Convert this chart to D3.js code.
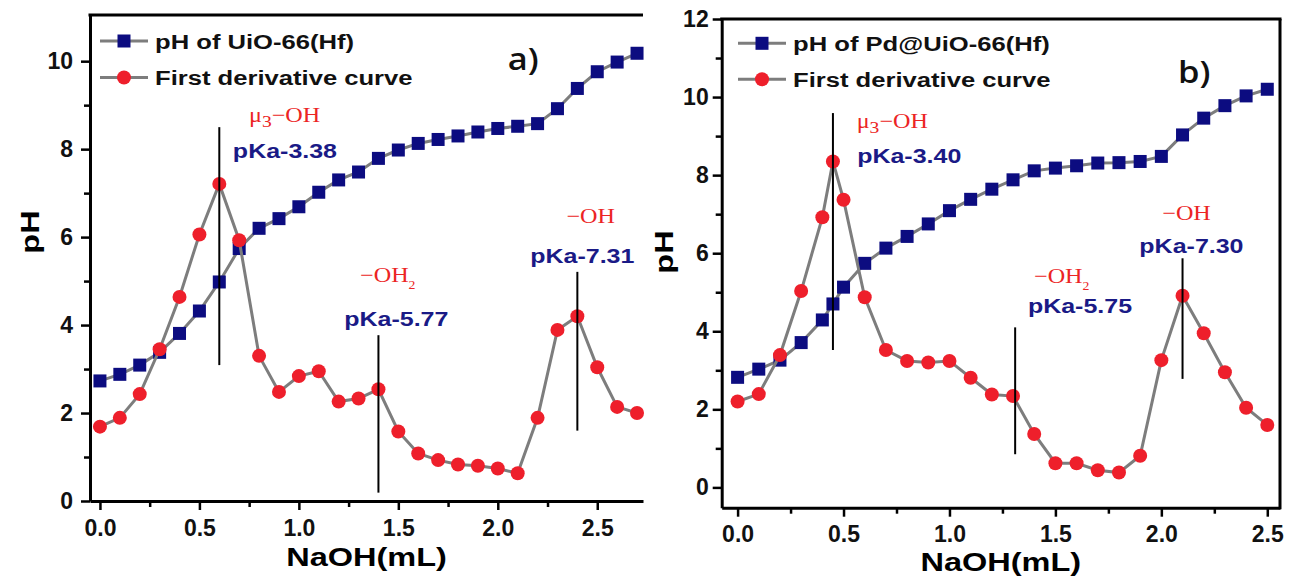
<!DOCTYPE html>
<html><head><meta charset="utf-8">
<script src="https://cdn.jsdelivr.net/npm/d3@7"></script>
<style>body{margin:0;background:#fff}svg{display:block}</style>
</head><body>
<svg id="c" width="1289" height="579"></svg>
<script>
// ---------- data ----------
const naohA = [0,0.1,0.2,0.3,0.4,0.5,0.6,0.7,0.8,0.9,1.0,1.1,1.2,1.3,1.4,1.5,1.6,1.7,1.8,1.9,2.0,2.1,2.2,2.3,2.4,2.5,2.6,2.7];
const phA = [2.73,2.88,3.09,3.38,3.81,4.32,4.98,5.74,6.2,6.42,6.69,7.02,7.3,7.48,7.79,7.98,8.13,8.22,8.3,8.39,8.47,8.52,8.58,8.92,9.38,9.76,9.98,10.18];
const derivA = [1.69,1.89,2.43,3.45,4.64,6.06,7.21,5.93,3.3,2.48,2.84,2.95,2.26,2.33,2.54,1.58,1.08,0.93,0.83,0.8,0.74,0.63,1.89,3.89,4.2,3.04,2.14,2.0];

const naohB = [0,0.1,0.2,0.3,0.4,0.45,0.5,0.6,0.7,0.8,0.9,1.0,1.1,1.2,1.3,1.4,1.5,1.6,1.7,1.8,1.9,2.0,2.1,2.2,2.3,2.4,2.5];
const phB = [2.82,3.03,3.26,3.71,4.29,4.7,5.13,5.74,6.13,6.43,6.75,7.09,7.38,7.64,7.88,8.11,8.18,8.24,8.31,8.32,8.35,8.48,9.03,9.46,9.78,10.03,10.2];
const derivB = [2.2,2.39,3.39,5.03,6.92,8.35,7.37,4.87,3.52,3.24,3.2,3.24,2.81,2.38,2.34,1.37,0.62,0.62,0.44,0.38,0.81,3.26,4.91,3.95,2.95,2.04,1.6];

const legendA = ["pH of UiO-66(Hf)", "First derivative curve"];
const legendB = ["pH of Pd@UiO-66(Hf)", "First derivative curve"];

const xTicks = [0,0.5,1.0,1.5,2.0,2.5];
const xMinorTicks = [0.25,0.75,1.25,1.75,2.25];
const yTicksA = [0,2,4,6,8,10];
const yMinorA = [1,3,5,7,9];
const yTicksB = [0,2,4,6,8,10,12];
const yMinorB = [1,3,5,7,9,11];

const pkaLinesA = [{x:0.6,y0:3.09,y1:8.5},{x:1.4,y0:0.19,y1:3.77},{x:2.4,y0:1.6,y1:5.21}];
const pkaLinesB = [{x:0.45,y0:3.52,y1:9.59},{x:1.31,y0:0.85,y1:4.1},{x:2.1,y0:2.78,y1:5.87}];

const siteA = [{pre:"μ",sub:"3",post:"−OH",x:0.928,y:8.62},{pre:"−OH",sub:"2",post:"",x:1.447,y:4.98},{pre:"−OH",sub:"",post:"",x:2.467,y:6.32}];
const pkaA = [{text:"pKa-3.38",x:0.93,y:7.79},{text:"pKa-5.77",x:1.49,y:3.98},{text:"pKa-7.31",x:2.425,y:5.41}];
const siteB = [{pre:"μ",sub:"3",post:"−OH",x:0.73,y:9.21},{pre:"−OH",sub:"2",post:"",x:1.53,y:5.24},{pre:"−OH",sub:"",post:"",x:2.119,y:6.86}];
const pkaB = [{text:"pKa-3.40",x:0.81,y:8.32},{text:"pKa-5.75",x:1.616,y:4.47},{text:"pKa-7.30",x:2.142,y:6.01}];

const panelLabels = [{text:"a)",x:2.05,y:9.8},{text:"b)",x:2.079,y:10.37}];

// ---------- styles ----------
const BLUE = "#0c0c80", RED = "#ee1f2b", GRAY = "#7d7d7d", NAVY = "#1a1a86", TRED = "#ec2424";
const SANS = "'Liberation Sans', Arial, sans-serif";
const SERIF = "'Liberation Serif', 'Times New Roman', serif";
const SX = 1.25;

const svg = d3.select("#c");

function stext(g, x, y, str, o) {
  const gg = g.append("g").attr("transform", `translate(${x},${y}) scale(${o.sx||SX},1)`);
  const t = gg.append("text").attr("text-anchor", o.anchor||"start")
    .attr("font-family", o.family||SANS).attr("font-size", o.size)
    .attr("font-weight", o.weight||"bold").attr("fill", o.fill||"#000");
  if (str !== null) t.text(str);
  return t;
}

function panel(cfg) {
  const g = svg.append("g");
  const x = d3.scaleLinear().domain(cfg.xd).range([cfg.left, cfg.right]);
  const y = d3.scaleLinear().domain(cfg.yd).range([cfg.bottom, cfg.top]);

  // axes
  g.append("g").attr("transform", `translate(0,${cfg.bottom})`)
    .call(d3.axisBottom(x).tickValues(xTicks).tickSize(9).tickSizeOuter(0).tickPadding(cfg.xpad).tickFormat(d3.format(".1f")));
  g.append("g").attr("transform", `translate(0,${cfg.bottom})`)
    .call(d3.axisBottom(x).tickValues(xMinorTicks).tickSize(6).tickSizeOuter(0).tickFormat(""))
    .select(".domain").remove();
  g.append("g").attr("transform", `translate(${cfg.left},0)`)
    .call(d3.axisLeft(y).tickValues(cfg.yTicks).tickSize(9).tickSizeOuter(0).tickPadding(cfg.ypad).tickFormat(d3.format("d")));
  g.append("g").attr("transform", `translate(${cfg.left},0)`)
    .call(d3.axisLeft(y).tickValues(cfg.yMinor).tickSize(6).tickSizeOuter(0).tickFormat(""))
    .select(".domain").remove();
  g.selectAll(".domain").attr("stroke", "#000").attr("stroke-width", 3);
  g.selectAll(".tick line").attr("stroke", "#000").attr("stroke-width", 2.5);
  g.selectAll(".tick text").attr("font-family", SANS).attr("font-size", 23).attr("font-weight", "bold").attr("fill", "#111");
  // frame
  g.append("line").attr("x1", cfg.left - 1.5).attr("x2", cfg.right + (cfg.rightBorder ? 1.5 : 0))
    .attr("y1", cfg.top).attr("y2", cfg.top).attr("stroke", "#000").attr("stroke-width", 3);
  if (cfg.rightBorder) {
    g.append("line").attr("x1", cfg.right).attr("x2", cfg.right).attr("y1", cfg.top).attr("y2", cfg.bottom + 1.5)
      .attr("stroke", "#000").attr("stroke-width", 3);
  }

  // axis titles
  stext(g, (cfg.left + cfg.right) / 2, cfg.xTitleY, "NaOH(mL)", {size: 26, anchor: "middle"});
  const pg = g.append("g").attr("transform", `translate(${cfg.yTitleX},${cfg.yTitleY}) rotate(-90) scale(${SX},1)`);
  pg.append("text").attr("text-anchor", "middle").attr("dy", "0.35em").attr("font-family", SANS)
    .attr("font-size", 26).attr("font-weight", "bold").text("pH");

  const line = d3.line().x((d, i) => x(cfg.xs[i])).y(d => y(d));
  // pH series
  g.append("path").attr("d", line(cfg.ph)).attr("fill", "none").attr("stroke", GRAY).attr("stroke-width", 3);
  g.selectAll(".sq").data(cfg.ph).enter().append("rect")
    .attr("x", (d, i) => x(cfg.xs[i]) - 6.5).attr("y", d => y(d) - 6.5)
    .attr("width", 13).attr("height", 13).attr("fill", BLUE);
  // derivative
  g.append("path").attr("d", line(cfg.der)).attr("fill", "none").attr("stroke", GRAY).attr("stroke-width", 3);
  g.selectAll(".ci").data(cfg.der).enter().append("circle")
    .attr("cx", (d, i) => x(cfg.xs[i])).attr("cy", d => y(d)).attr("r", 7).attr("fill", RED);

  // vertical pKa lines
  g.selectAll(".vl").data(cfg.vlines).enter().append("line")
    .attr("x1", d => x(d.x)).attr("x2", d => x(d.x)).attr("y1", d => y(d.y0)).attr("y2", d => y(d.y1))
    .attr("stroke", "#000").attr("stroke-width", 2);

  // site labels
  cfg.sites.forEach(s => {
    const t = stext(g, x(s.x), y(s.y), null, {size: 21, weight: "normal", family: SERIF, fill: TRED, anchor: "middle", sx: 1.15});
    t.append("tspan").text(s.pre);
    if (s.sub) {
      if (s.post) {
        t.append("tspan").attr("font-size", 17).attr("dy", 5).text(s.sub);
        t.append("tspan").attr("dy", -5).text(s.post);
      } else {
        t.append("tspan").attr("font-size", 12).attr("dy", 7).text(s.sub);
      }
    }
  });
  cfg.pkas.forEach(p => stext(g, x(p.x), y(p.y), p.text, {size: 20, fill: NAVY, anchor: "middle"}));

  // panel label
  stext(g, x(cfg.plabel.x), y(cfg.plabel.y), cfg.plabel.text, {size: 30, weight: 600, family: "'Open Sans', sans-serif", fill: "#111", sx: 1.15});

  // legend
  const lg = g.append("g");
  cfg.legend.forEach((name, i) => {
    const ly = cfg.legY[i];
    lg.append("line").attr("x1", cfg.legX).attr("x2", cfg.legX + 48).attr("y1", ly).attr("y2", ly)
      .attr("stroke", GRAY).attr("stroke-width", 3);
    if (i === 0) lg.append("rect").attr("x", cfg.legX + 24 - 6.5).attr("y", ly - 6.5).attr("width", 13).attr("height", 13).attr("fill", BLUE);
    else lg.append("circle").attr("cx", cfg.legX + 24).attr("cy", ly).attr("r", 7).attr("fill", RED);
    stext(lg, cfg.legX + 55, ly + 7.5, name, {size: 21, fill: "#111", sx: 1.22});
  });
}

panel({xd: [-0.05, 2.73], yd: [0, 11.05], left: 90, right: 643, top: 15, bottom: 501, rightBorder: false,
  xs: naohA, ph: phA, der: derivA, yTicks: yTicksA, yMinor: yMinorA, ypad: 8, xpad: 10,
  vlines: pkaLinesA, sites: siteA, pkas: pkaA, plabel: panelLabels[0],
  legend: legendA, legX: 100, legY: [41, 77.5], xTitleY: 566, yTitleX: 30, yTitleY: 232});

panel({xd: [-0.075, 2.56], yd: [-0.52, 12], left: 721.7, right: 1280, top: 19, bottom: 507.7, rightBorder: true,
  xs: naohB, ph: phB, der: derivB, yTicks: yTicksB, yMinor: yMinorB, ypad: 4, xpad: 9,
  vlines: pkaLinesB, sites: siteB, pkas: pkaB, plabel: panelLabels[1],
  legend: legendB, legX: 738, legY: [43.3, 79.3], xTitleY: 571, yTitleX: 664, yTitleY: 252});
</script>
</body></html>
